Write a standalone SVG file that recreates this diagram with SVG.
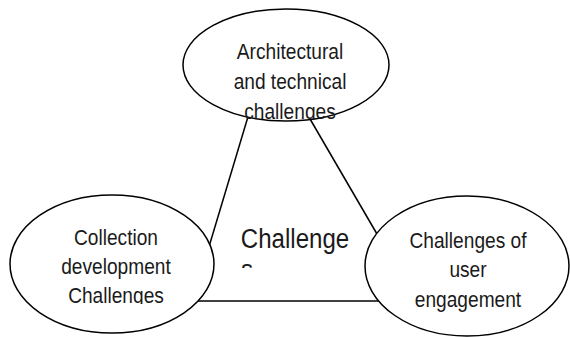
<svg xmlns="http://www.w3.org/2000/svg" width="570" height="337" viewBox="0 0 570 337">
<style>
.n{fill:#fff;stroke:#000;stroke-width:1.5}
.c line{stroke:#000;stroke-width:1.5}
.t{font-family:"Liberation Sans",Arial,sans-serif;font-size:22px;fill:#1a1a1a;text-anchor:middle}
.big{font-size:28px}
</style>
<defs>
<clipPath id="clipTop"><rect x="180" y="20" width="220" height="100"/></clipPath>
<clipPath id="clipLeft"><rect x="20" y="225" width="200" height="79"/></clipPath>
<clipPath id="clipCenter"><rect x="225" y="215" width="140" height="53"/></clipPath>
</defs>
<rect width="570" height="337" fill="#fff"/>
<g id="connectors" class="c">
<line x1="250" y1="110" x2="208" y2="250"/>
<line x1="304.8" y1="110" x2="383.4" y2="245"/>
<line x1="195" y1="301" x2="390" y2="301"/>
</g>
<g id="center">
<g clip-path="url(#clipCenter)">
<text class="t big" transform="translate(295,248) scale(0.86,1)">Challenge</text>
<text class="t big" transform="translate(247,279) scale(0.86,1)">s</text>
</g>
</g>
<g id="top">
<ellipse class="n" cx="286" cy="65" rx="103" ry="56"/>
<g clip-path="url(#clipTop)">
<text class="t" transform="translate(290,59) scale(0.87,1)">Architectural</text>
<text class="t" transform="translate(290,89) scale(0.87,1)">and technical</text>
<text class="t" transform="translate(290,119) scale(0.87,1)">challenges</text>
</g>
</g>
<g id="left">
<ellipse class="n" cx="112" cy="264" rx="102" ry="69"/>
<g clip-path="url(#clipLeft)">
<text class="t" transform="translate(116,245) scale(0.87,1)">Collection</text>
<text class="t" transform="translate(116,274) scale(0.87,1)">development</text>
<text class="t" transform="translate(116,303) scale(0.87,1)">Challenges</text>
</g>
</g>
<g id="right">
<ellipse class="n" cx="467" cy="266" rx="102" ry="70"/>
<text class="t" transform="translate(468,248) scale(0.87,1)">Challenges of</text>
<text class="t" transform="translate(468,277) scale(0.87,1)">user</text>
<text class="t" transform="translate(468,307) scale(0.87,1)">engagement</text>
</g>
</svg>
